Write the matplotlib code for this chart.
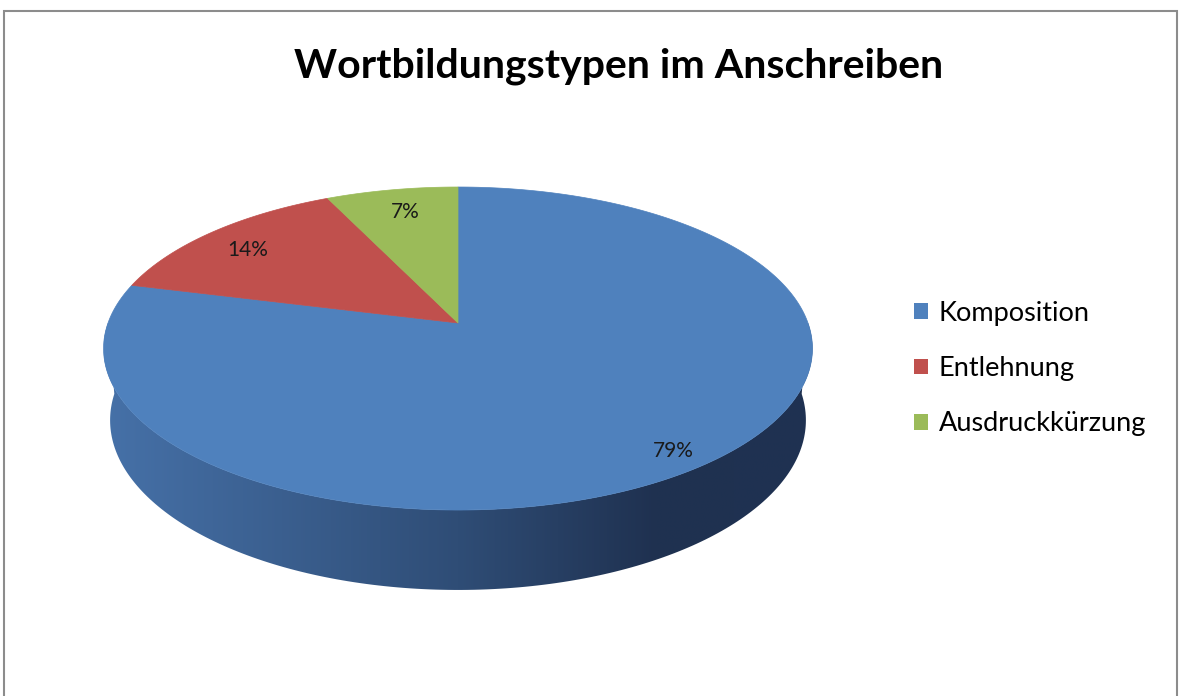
import numpy as np
import matplotlib
matplotlib.use("Agg")
import matplotlib.pyplot as plt
from matplotlib.patches import Polygon, Rectangle, Patch
from matplotlib.colors import LinearSegmentedColormap

# data
labels = ["Komposition", "Entlehnung", "Ausdruckkürzung"]
shares = [79, 14, 7]
colors = ["#4F81BD", "#C0504D", "#9BBB59"]

plt.rcParams['font.family'] = ['Lato', 'DejaVu Sans']

W, H = 1179, 696
fig = plt.figure(figsize=(W / 100, H / 100), dpi=100)

# pie geometry (pixels), simple perspective projection of a flat cylinder
scale = 350.0          # px per unit radius
cx_px, cy_px = 458, 323
phi = np.radians(26.74)
D = np.cos(phi) / 0.158
depth_h = 0.231


def project(x, y, z):
    dep = y * np.cos(phi) - z * np.sin(phi) + D
    sx = x * D / dep
    sy = (y * np.sin(phi) + z * np.cos(phi)) * D / dep
    return sx, sy


ax = fig.add_axes([0, 0, 1, 1])
ax.axis('off')

# side wall (front half, belongs to the big slice)
t = np.radians(np.linspace(180, 360, 200))
tx, ty = project(np.cos(t), np.sin(t), 0 * t)
bx, by = project(np.cos(t), np.sin(t), -depth_h + 0 * t)
side_xy = np.column_stack([np.r_[tx, bx[::-1]], np.r_[ty, by[::-1]]])
side = Polygon(side_xy, closed=True, facecolor='none', edgecolor='none')
ax.add_patch(side)
side_cmap = LinearSegmentedColormap.from_list(
    "side", [(0.0, "#4671A8"), (0.5, "#2F4D76"), (0.78, "#1F3150"), (1.0, "#1F3252")])
grad = np.linspace(0, 1, 256)[None, :]
img = ax.imshow(grad, cmap=side_cmap, aspect='auto', zorder=1,
                extent=[side_xy[:, 0].min(), side_xy[:, 0].max(),
                        side_xy[:, 1].min(), side_xy[:, 1].max()])
img.set_clip_path(side)

# top face wedges: start at 12 o'clock, clockwise
total = float(sum(shares))
start = 90.0
for val, col, lab in zip(shares, colors, labels):
    sweep = 360.0 * val / total
    a = np.radians(np.linspace(start, start - sweep, 300))
    px, py = project(np.cos(a), np.sin(a), 0 * a)
    pts = np.column_stack([np.r_[0, px], np.r_[0, py]])
    ax.add_patch(Polygon(pts, closed=True, facecolor=col, edgecolor=col,
                         linewidth=0.5, zorder=2))
    mid = np.radians(start - sweep / 2)
    lx, ly = project(0.87 * np.cos(mid), 0.87 * np.sin(mid), 0.0)
    ax.annotate(f"{val}%", (lx, ly), xytext=(4, -3.5), textcoords='offset points',
                ha='center', va='center_baseline', fontsize=15,
                color='#1a1a1a', zorder=3)
    start -= sweep

ax.set_xlim(-cx_px / scale, (W - cx_px) / scale)
ax.set_ylim(-(H - cy_px) / scale, cy_px / scale)

# chart border
fig.patches.append(Rectangle((3.5 / W, -0.05), (1173.5) / W, 1 - 10.5 / H + 0.05,
                             transform=fig.transFigure, fill=False,
                             edgecolor='#8c8c8c', linewidth=1.5))

fig.text(619 / W, 1 - 66 / H, "Wortbildungstypen im Anschreiben",
         ha='center', va='center', fontsize=29.5, fontweight='bold', color='black')

handles = [Patch(facecolor=c, edgecolor='none') for c in colors]
fig.legend(handles, labels, loc='center left', bbox_to_anchor=(914 / W, 1 - 368.5 / H),
           frameon=False, fontsize=19.5, handlelength=0.52, handleheight=0.52,
           handletextpad=0.4, labelspacing=1.12, borderpad=0, borderaxespad=0)

fig.savefig("out.png", dpi=100)
